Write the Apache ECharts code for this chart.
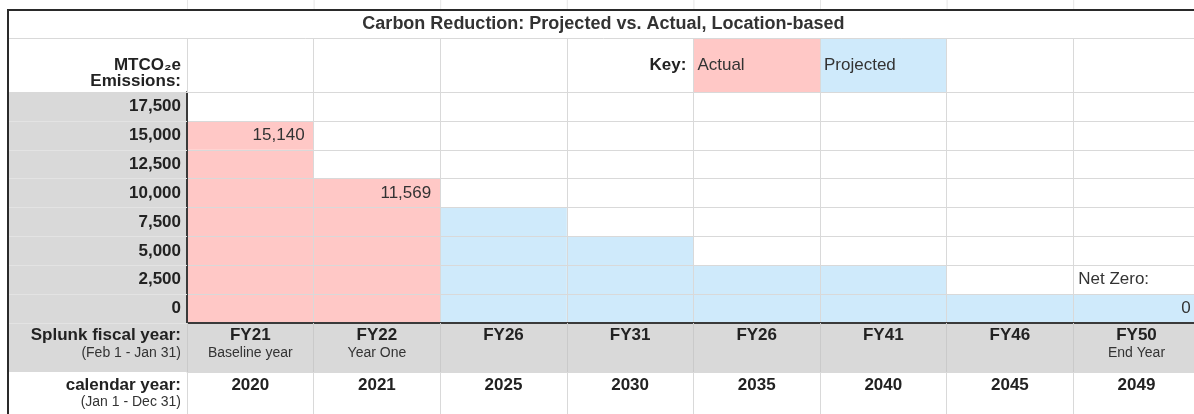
<!DOCTYPE html>
<html>
<head>
<meta charset="utf-8">
<script src="https://cdn.jsdelivr.net/npm/echarts@6/dist/echarts.min.js"></script>
<style>
  html, body { margin: 0; padding: 0; background: #ffffff; overflow: hidden; width: 1194px; height: 414px; }
  #chart { width: 1202px; height: 414px; }
</style>
</head>
<body>
<div id="chart"></div>
<script>
// ---------- data ----------
const title = 'Carbon Reduction: Projected vs. Actual, Location-based';
const rowLabels = ['0', '2,500', '5,000', '7,500', '10,000', '12,500', '15,000', '17,500'];
const rowStep = 2500;
const fiscalYears = ['FY21', 'FY22', 'FY26', 'FY31', 'FY26', 'FY41', 'FY46', 'FY50'];
const fiscalNotes = ['Baseline year', 'Year One', '', '', '', '', '', 'End Year'];
const calendarYears = ['2020', '2021', '2025', '2030', '2035', '2040', '2045', '2049'];
const actual = [15140, 11569, null, null, null, null, null, null];
const projected = [null, null, 7570, 5300, 3800, 2600, 1300, 0];
const valueShown = [true, true, false, false, false, false, false, true];
const valueNotes = ['', '', '', '', '', '', '', 'Net Zero:'];

// ---------- layout / style ----------
const FONT = '"Liberation Sans", Arial, sans-serif';
const PINK = '#ffc8c6';
const BLUE = '#cfeafb';
const GRAY = '#d9d9d9';
const LINE = '#d9d9d9';
const TXT = '#222';
const TABLE_LEFT = 7, LABEL_RIGHT = 187, COL_W = 126.6;
const TITLE_TOP = 9, HEADER_TOP = 38, DATA_TOP = 92, DATA_H = 231;
const DATA_BOTTOM = DATA_TOP + DATA_H, FISCAL_H = 49, CAL_H = 42;
const FISCAL_BOTTOM = DATA_BOTTOM + FISCAL_H;
const TABLE_RIGHT = LABEL_RIGHT + COL_W * fiscalYears.length;
const colLeft = i => LABEL_RIGHT + COL_W * i;

function buildCells(values) {
  const out = [];
  values.forEach((v, i) => {
    if (v == null) return;
    const top = Math.floor(v / rowStep);
    for (let r = 0; r <= top; r++) out.push([i, r, v, r === top ? 1 : 0]);
  });
  return out;
}

function makeRender(fill) {
  return function (params, api) {
    const i = api.value(0), r = api.value(1), v = api.value(2), isTop = api.value(3);
    const c = api.coord([i, r]);
    const s = api.size([1, 1]);
    const x0 = c[0] - s[0] / 2, y0 = c[1] - s[1] / 2;
    const children = [{
      type: 'rect',
      shape: { x: x0, y: y0, width: s[0], height: s[1] },
      style: { fill: fill }
    }];
    if (isTop && valueShown[i]) {
      children.push({
        type: 'text', x: x0 + s[0] - 9, y: c[1],
        style: { text: v.toLocaleString('en-US'), align: 'right', verticalAlign: 'middle',
                 fontSize: 17, fontFamily: FONT, fill: '#333' }
      });
    }
    if (isTop && valueNotes[i]) {
      children.push({
        type: 'text', x: x0 + 5, y: c[1] - s[1],
        style: { text: valueNotes[i], align: 'left', verticalAlign: 'middle',
                 fontSize: 17, fontFamily: FONT, fill: '#333' }
      });
    }
    return { type: 'group', children: children };
  };
}

function txt(text, x, y, opts) {
  return {
    type: 'text', x: x, y: y, z: 20,
    style: Object.assign({ text: text, fontFamily: FONT, fontSize: 17, fill: TXT,
      align: 'right', verticalAlign: 'middle' }, opts || {})
  };
}
function line(x1, y1, x2, y2, color, w, z) {
  return { type: 'line', z: z == null ? 20 : z, shape: { x1, y1, x2, y2 },
           style: { stroke: color, lineWidth: w } };
}

const graphics = [
  // backgrounds
  { type: 'rect', z: -1, shape: { x: TABLE_LEFT, y: DATA_TOP, width: LABEL_RIGHT - TABLE_LEFT, height: FISCAL_BOTTOM - DATA_TOP }, style: { fill: GRAY } },
  { type: 'rect', z: -1, shape: { x: LABEL_RIGHT, y: DATA_BOTTOM, width: TABLE_RIGHT - LABEL_RIGHT, height: FISCAL_H }, style: { fill: GRAY } },
  // key cells
  { type: 'rect', z: -1, shape: { x: colLeft(4), y: HEADER_TOP, width: COL_W, height: DATA_TOP - HEADER_TOP }, style: { fill: PINK } },
  { type: 'rect', z: -1, shape: { x: colLeft(5), y: HEADER_TOP, width: COL_W, height: DATA_TOP - HEADER_TOP }, style: { fill: BLUE } },
  // title row lines
  line(TABLE_LEFT, HEADER_TOP + 0.5, TABLE_RIGHT, HEADER_TOP + 0.5, LINE, 1),
  line(TABLE_LEFT, DATA_TOP + 0.5, LABEL_RIGHT, DATA_TOP + 0.5, LINE, 1),
  // outer border
  line(TABLE_LEFT, TITLE_TOP + 1, TABLE_RIGHT, TITLE_TOP + 1, '#2a2a2a', 2, 30),
  line(TABLE_LEFT + 1, TITLE_TOP, TABLE_LEFT + 1, 414, '#2a2a2a', 2, 30),
  // texts
  { type: 'text', z: 20, x: (TABLE_LEFT + TABLE_RIGHT) / 2, y: (TITLE_TOP + HEADER_TOP) / 2 + 0.5,
    style: { text: title, fontFamily: FONT, fontSize: 18, fontWeight: 'bold', fill: '#333', align: 'center', verticalAlign: 'middle' } },
  txt('MTCO\u2082e', LABEL_RIGHT - 6, 65, { fontWeight: 'bold' }),
  txt('Emissions:', LABEL_RIGHT - 6, 81, { fontWeight: 'bold' }),
  txt('Key:', colLeft(4) - 7, 65, { fontWeight: 'bold' }),
  txt('Actual', colLeft(4) + 4, 65, { align: 'left', fill: '#333' }),
  txt('Projected', colLeft(5) + 4, 65, { align: 'left', fill: '#333' }),
  txt('Splunk fiscal year:', LABEL_RIGHT - 6, 335, { fontWeight: 'bold' }),
  txt('(Feb 1 - Jan 31)', LABEL_RIGHT - 6, 353, { fontSize: 14, fill: '#333' }),
  txt('calendar year:', LABEL_RIGHT - 6, 385, { fontWeight: 'bold' }),
  txt('(Jan 1 - Dec 31)', LABEL_RIGHT - 6, 402, { fontSize: 14, fill: '#333' })
];
// faint spreadsheet gridline stubs above the table
for (let i = 0; i <= fiscalYears.length; i++) {
  graphics.push(line(colLeft(i) + 0.5, 0, colLeft(i) + 0.5, TITLE_TOP, '#e6e6e6', 1, 5));
}

const chart = echarts.init(document.getElementById('chart'), null, { renderer: 'canvas' });
chart.setOption({
  animation: false,
  backgroundColor: '#ffffff',
  textStyle: { fontFamily: FONT },
  grid: { left: LABEL_RIGHT, top: DATA_TOP, width: TABLE_RIGHT - LABEL_RIGHT, height: DATA_H, containLabel: false },
  xAxis: [
    {
      type: 'category', data: fiscalYears, position: 'bottom', boundaryGap: true, z: 5,
      axisLine: { show: true, lineStyle: { color: '#3a3a3a', width: 2 } },
      axisTick: { show: true, interval: 0, length: FISCAL_H, lineStyle: { color: '#cacaca' } },
      splitLine: { show: true, interval: 0, lineStyle: { color: LINE, width: 1 } },
      axisLabel: {
        interval: 0, margin: 3,
        formatter: (v, i) => '{a|' + v + '}' + (fiscalNotes[i] ? '\n{b|' + fiscalNotes[i] + '}' : ''),
        rich: {
          a: { fontSize: 17, fontWeight: 'bold', lineHeight: 18, color: TXT, fontFamily: FONT },
          b: { fontSize: 14, lineHeight: 18, color: '#333', fontFamily: FONT }
        }
      }
    },
    {
      type: 'category', data: calendarYears, position: 'bottom', offset: FISCAL_H, boundaryGap: true, z: 5,
      axisLine: { show: true, lineStyle: { color: LINE, width: 1 } },
      axisTick: { show: true, interval: 0, length: CAL_H, lineStyle: { color: LINE } },
      splitLine: { show: false },
      axisLabel: { interval: 0, margin: 4, fontSize: 17, fontWeight: 'bold', lineHeight: 18, color: TXT, fontFamily: FONT }
    },
    {
      type: 'category', data: calendarYears, position: 'top', boundaryGap: true, z: 5,
      axisLine: { show: true, lineStyle: { color: LINE, width: 1 } },
      axisTick: { show: true, interval: 0, length: DATA_TOP - HEADER_TOP, lineStyle: { color: LINE } },
      splitLine: { show: false },
      axisLabel: { show: false }
    }
  ],
  yAxis: [{
    type: 'category', data: rowLabels, boundaryGap: true, z: 5,
    axisLine: { show: true, lineStyle: { color: '#3a3a3a', width: 2 } },
    axisTick: { show: true, interval: 0, length: LABEL_RIGHT - TABLE_LEFT, lineStyle: { color: '#e3e3e3' } },
    splitLine: { show: true, interval: 0, lineStyle: { color: LINE, width: 1 } },
    axisLabel: { interval: 0, margin: 6, fontSize: 17, fontWeight: 'bold', color: TXT, fontFamily: FONT }
  }],
  series: [
    {
      name: 'Actual', type: 'custom', xAxisIndex: 0, yAxisIndex: 0,
      encode: { x: 0, y: 1 }, renderItem: makeRender(PINK), data: buildCells(actual)
    },
    {
      name: 'Projected', type: 'custom', xAxisIndex: 0, yAxisIndex: 0,
      encode: { x: 0, y: 1 }, renderItem: makeRender(BLUE), data: buildCells(projected)
    }
  ],
  graphic: graphics
});
</script>
</body>
</html>
